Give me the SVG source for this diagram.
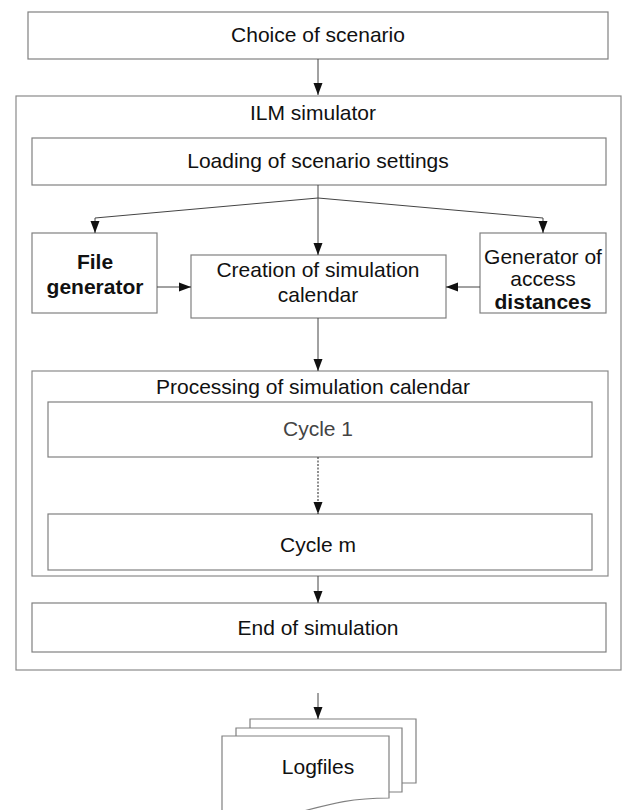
<svg xmlns="http://www.w3.org/2000/svg" width="622" height="810" viewBox="0 0 622 810">
<style>
.box{fill:#fff;stroke:#808080;stroke-width:1.2}
.frame{fill:none;stroke:#8a8a8a;stroke-width:1.2}
.t{font-family:"Liberation Sans",Arial,sans-serif;font-size:21px;fill:#111;text-anchor:middle}
.b{font-weight:bold}
.g{fill:#444}
.c{stroke:#444;stroke-width:1;fill:none}
.d{stroke:#444;stroke-width:1.2;fill:none;stroke-dasharray:2 1.5}
</style>
<defs>
<marker id="ah" viewBox="0 0 12 10" refX="12" refY="5" markerWidth="12" markerHeight="10" markerUnits="userSpaceOnUse" orient="auto">
<path d="M0,0.5 L12,5 L0,9.5 Z" fill="#111"/>
</marker>
</defs>
<rect width="622" height="810" fill="#fff"/>
<g id="choice">
<rect class="box" x="28" y="12" width="580" height="47"/>
<text class="t" x="318" y="42">Choice of scenario</text>
</g>
<g id="ilm">
<rect class="frame" x="16" y="96" width="605" height="574"/>
<text class="t" x="313" y="120">ILM simulator</text>
</g>
<g id="loading">
<rect class="box" x="32" y="138" width="574" height="47"/>
<text class="t" x="318" y="168">Loading of scenario settings</text>
</g>
<g id="filegen">
<rect class="box" x="32" y="233" width="125" height="80"/>
<text class="t b" x="95" y="269">File</text>
<text class="t b" x="95" y="294">generator</text>
</g>
<g id="creation">
<rect class="box" x="191" y="255" width="255" height="63"/>
<text class="t" x="318" y="277">Creation of simulation</text>
<text class="t" x="318" y="302">calendar</text>
</g>
<g id="accessgen">
<rect class="box" x="480" y="233" width="126" height="80"/>
<text class="t" x="543" y="264">Generator of</text>
<text class="t" x="543" y="286">access</text>
<text class="t b" x="543" y="309">distances</text>
</g>
<g id="processing">
<rect class="frame" x="32" y="371" width="576" height="205"/>
<text class="t" x="313" y="394">Processing of simulation calendar</text>
</g>
<g id="cycle1">
<rect class="box" x="48" y="402" width="544" height="55"/>
<text class="t g" x="318" y="436">Cycle 1</text>
</g>
<g id="cyclem">
<rect class="box" x="48" y="514" width="544" height="56"/>
<text class="t" x="318" y="552">Cycle m</text>
</g>
<g id="end">
<rect class="box" x="32" y="603" width="574" height="49"/>
<text class="t" x="318" y="635">End of simulation</text>
</g>
<g id="logfiles">
<path class="box" d="M250,719 H416 V783 H250 Z"/>
<path class="box" d="M236,728 H402 V792 H236 Z"/>
<path class="box" d="M222,736 H389 V798 C350,798 330,804 300,812 H222 Z"/>
<text class="t" x="318" y="774">Logfiles</text>
</g>
<g id="connectors">
<line class="c" x1="318" y1="59" x2="318" y2="95" marker-end="url(#ah)"/>
<polyline class="c" points="318,185 318,198 95,218 95,233" marker-end="url(#ah)"/>
<polyline class="c" points="318,198 543,218 543,233" marker-end="url(#ah)"/>
<line class="c" x1="318" y1="198" x2="318" y2="255" marker-end="url(#ah)"/>
<line class="c" x1="157" y1="287" x2="191" y2="287" marker-end="url(#ah)"/>
<line class="c" x1="480" y1="287" x2="446" y2="287" marker-end="url(#ah)"/>
<line class="c" x1="318" y1="318" x2="318" y2="371" marker-end="url(#ah)"/>
<line class="d" x1="318" y1="457" x2="318" y2="514" marker-end="url(#ah)"/>
<line class="c" x1="318" y1="576" x2="318" y2="603" marker-end="url(#ah)"/>
<line class="c" x1="318" y1="693" x2="318" y2="719" marker-end="url(#ah)"/>
</g>
</svg>
